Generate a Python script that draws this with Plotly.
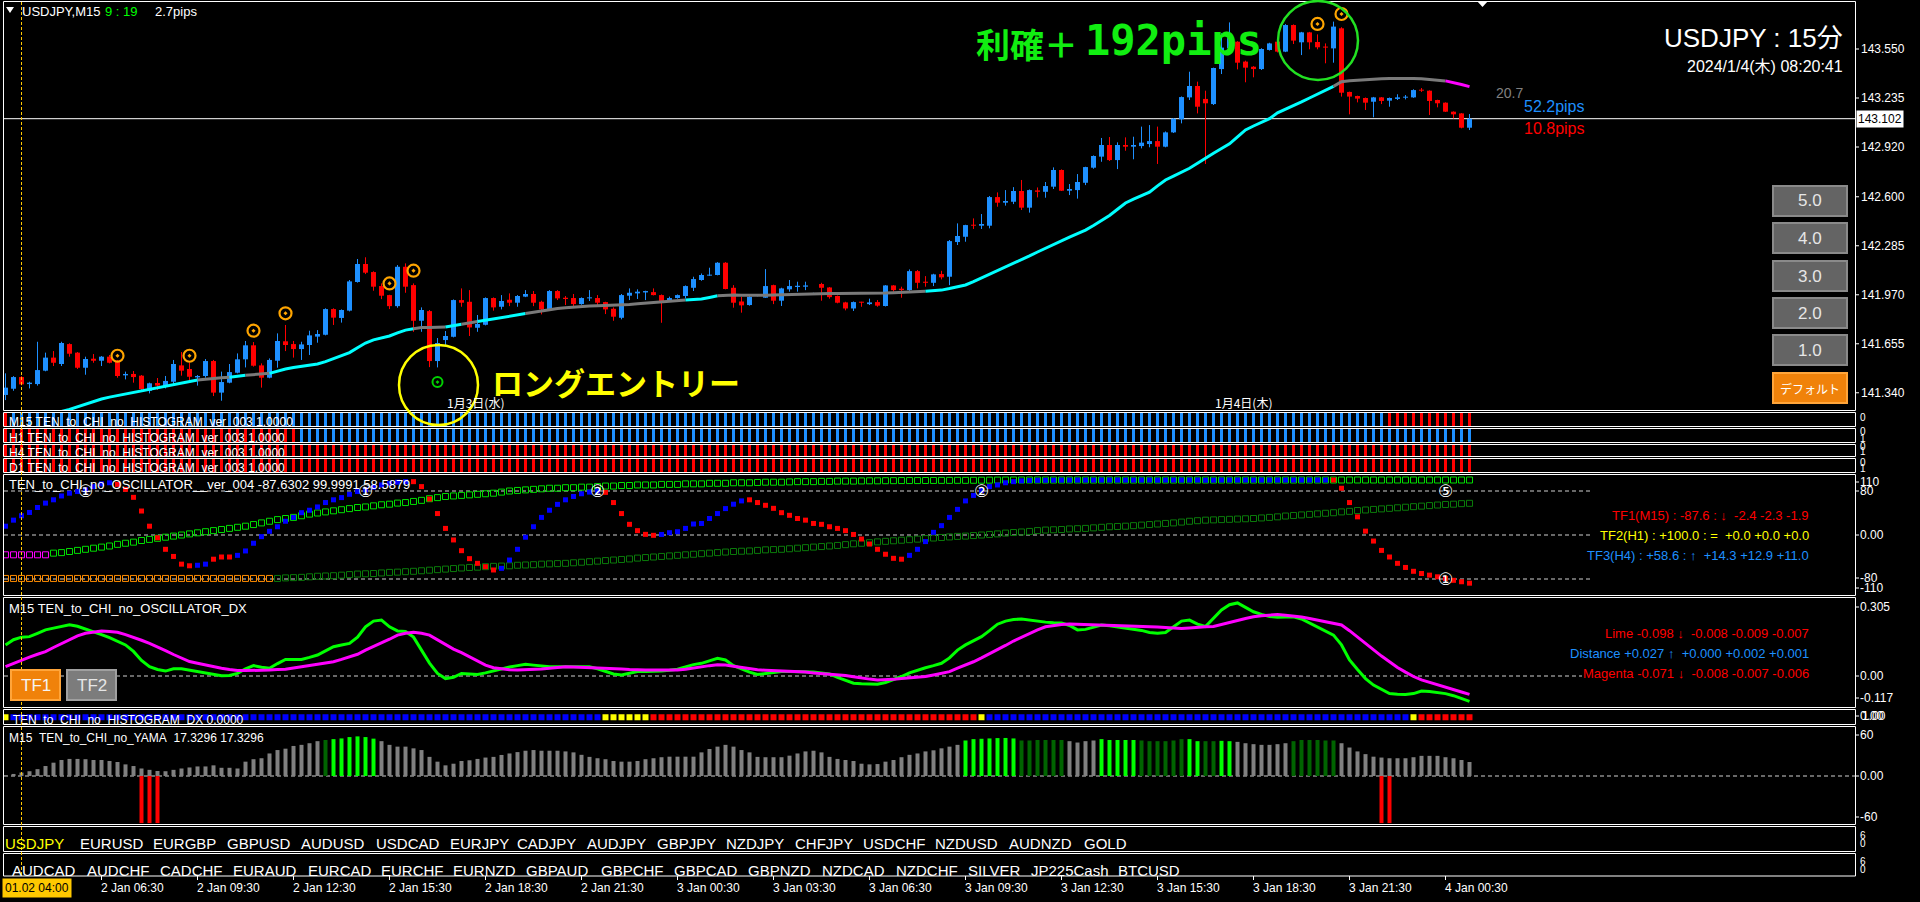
import plotly.graph_objects as go

FONT = "Liberation Sans"
JFONT = "Noto Sans CJK JP"
MONO = "DejaVu Sans Mono"

# ======================= DATA =======================
# M15 candles, bar 0 = 2 Jan 03:30 (server time), one bar per 15 minutes
O = [
    141.326, 141.366, 141.441, 141.396, 141.396, 141.482, 141.566, 141.525, 141.653, 141.598,
    141.501, 141.559, 141.546, 141.572, 141.546, 141.452, 141.461, 141.450, 141.353, 141.403,
    141.379, 141.411, 141.516, 141.493, 141.439, 141.448, 141.544, 141.341, 141.405, 141.469,
    141.555, 141.645, 141.516, 141.437, 141.546, 141.671, 141.653, 141.621, 141.647, 141.701,
    141.713, 141.878, 141.821, 141.868, 142.052, 142.168, 142.116, 142.026, 141.968, 141.897,
    142.150, 142.032, 141.803, 141.865, 141.544, 141.679, 141.700, 141.936, 141.925, 141.758,
    141.777, 141.949, 141.893, 141.938, 141.919, 141.958, 141.975, 141.925, 141.876, 141.994,
    141.951, 141.949, 141.910, 141.947, 141.949, 141.923, 141.880, 141.822, 141.964, 141.979,
    141.985, 141.987, 141.968, 141.930, 141.949, 141.962, 142.015, 142.065, 142.093, 142.097,
    142.176, 142.015, 141.927, 141.904, 141.963, 141.951, 142.032, 141.932, 142.005, 142.020,
    142.022, 141.975, 142.039, 142.017, 141.962, 141.921, 141.882, 141.923, 141.910, 141.923,
    141.898, 142.030, 142.009, 142.000, 142.122, 142.054, 142.047, 142.103, 142.086, 142.309,
    142.343, 142.418, 142.414, 142.414, 142.598, 142.562, 142.568, 142.637, 142.530, 142.641,
    142.632, 142.665, 142.772, 142.639, 142.643, 142.690, 142.787, 142.858, 142.933, 142.836,
    142.933, 142.922, 142.926, 142.939, 142.958, 142.922, 143.014, 143.098, 143.239, 143.312,
    143.229, 143.196, 143.421, 143.554, 143.597, 143.469, 143.436, 143.421, 143.544, 143.597,
    143.533, 143.704, 143.593, 143.657, 143.595, 143.563, 143.554, 143.683, 143.274, 143.248,
    143.235, 143.211, 143.239, 143.218, 143.229, 143.237, 143.239, 143.286, 143.282, 143.222,
    143.205, 143.147, 143.136, 143.044,
]
H = [
    141.465, 141.447, 141.447, 141.411, 141.668, 141.598, 141.608, 141.668, 141.658, 141.602,
    141.572, 141.589, 141.576, 141.583, 141.551, 141.476, 141.480, 141.454, 141.405, 141.435,
    141.448, 141.551, 141.602, 141.533, 141.454, 141.557, 141.551, 141.476, 141.525, 141.593,
    141.673, 141.666, 141.529, 141.561, 141.722, 141.776, 141.673, 141.668, 141.739, 141.743,
    141.883, 141.883, 141.876, 142.065, 142.200, 142.211, 142.121, 142.043, 141.970, 142.161,
    142.172, 142.043, 141.889, 141.872, 141.692, 141.737, 141.940, 142.011, 142.000, 141.840,
    141.953, 141.953, 141.968, 141.979, 141.968, 142.000, 141.994, 141.932, 142.000, 142.000,
    141.962, 141.975, 141.953, 142.000, 141.968, 141.925, 141.889, 141.975, 142.011, 142.005,
    141.996, 142.011, 141.972, 141.958, 141.972, 142.030, 142.086, 142.107, 142.144, 142.180,
    142.180, 142.032, 141.957, 141.962, 141.970, 142.135, 142.035, 142.015, 142.065, 142.054,
    142.054, 141.983, 142.047, 142.020, 141.965, 141.925, 141.927, 141.925, 141.945, 141.936,
    142.032, 142.032, 142.022, 142.133, 142.129, 142.090, 142.105, 142.124, 142.322, 142.429,
    142.420, 142.461, 142.489, 142.605, 142.628, 142.643, 142.662, 142.708, 142.647, 142.660,
    142.695, 142.789, 142.776, 142.682, 142.746, 142.793, 142.866, 142.978, 142.984, 142.950,
    142.982, 142.986, 143.051, 143.061, 143.051, 143.020, 143.105, 143.245, 143.404, 143.340,
    143.282, 143.430, 143.651, 143.721, 143.600, 143.475, 143.440, 143.555, 143.590, 143.600,
    143.710, 143.708, 143.660, 143.660, 143.644, 143.586, 143.726, 143.690, 143.276, 143.250,
    143.238, 143.242, 143.241, 143.238, 143.259, 143.254, 143.291, 143.299, 143.284, 143.224,
    143.207, 143.149, 143.138, 143.132,
]
L = [
    141.293, 141.353, 141.388, 141.368, 141.386, 141.478, 141.512, 141.512, 141.572, 141.493,
    141.456, 141.533, 141.512, 141.529, 141.437, 141.426, 141.405, 141.347, 141.336, 141.358,
    141.368, 141.396, 141.450, 141.422, 141.386, 141.437, 141.319, 141.289, 141.401, 141.465,
    141.503, 141.508, 141.373, 141.433, 141.501, 141.608, 141.566, 141.551, 141.583, 141.662,
    141.709, 141.776, 141.791, 141.863, 142.048, 142.103, 141.996, 141.942, 141.878, 141.887,
    141.983, 141.732, 141.732, 141.505, 141.503, 141.647, 141.696, 141.893, 141.705, 141.732,
    141.773, 141.868, 141.876, 141.897, 141.893, 141.955, 141.897, 141.844, 141.872, 141.936,
    141.904, 141.897, 141.906, 141.930, 141.904, 141.846, 141.803, 141.812, 141.936, 141.943,
    141.936, 141.966, 141.790, 141.928, 141.945, 141.947, 141.994, 142.060, 142.092, 142.095,
    142.005, 141.887, 141.855, 141.900, 141.960, 141.950, 141.910, 141.898, 141.990, 141.990,
    142.000, 141.971, 141.932, 141.945, 141.915, 141.870, 141.866, 141.893, 141.904, 141.893,
    141.895, 141.990, 141.951, 141.995, 142.011, 142.022, 142.026, 142.069, 142.032, 142.290,
    142.311, 142.393, 142.393, 142.397, 142.536, 142.543, 142.553, 142.515, 142.498, 142.596,
    142.594, 142.650, 142.637, 142.611, 142.588, 142.675, 142.780, 142.825, 142.830, 142.778,
    142.896, 142.841, 142.911, 142.918, 142.811, 142.918, 143.010, 143.072, 143.222, 143.136,
    142.811, 143.190, 143.389, 143.544, 143.419, 143.336, 143.368, 143.415, 143.540, 143.528,
    143.530, 143.582, 143.511, 143.548, 143.548, 143.458, 143.462, 143.244, 143.130, 143.207,
    143.158, 143.111, 143.196, 143.179, 143.222, 143.226, 143.236, 143.274, 143.126, 143.175,
    143.145, 143.104, 143.040, 143.029,
]
C = [
    141.373, 141.441, 141.394, 141.405, 141.486, 141.566, 141.533, 141.660, 141.591, 141.501,
    141.557, 141.546, 141.572, 141.533, 141.448, 141.461, 141.441, 141.364, 141.401, 141.386,
    141.416, 141.525, 141.482, 141.443, 141.448, 141.544, 141.341, 141.409, 141.473, 141.555,
    141.645, 141.514, 141.437, 141.551, 141.673, 141.647, 141.621, 141.651, 141.709, 141.718,
    141.878, 141.823, 141.872, 142.056, 142.168, 142.112, 142.022, 141.964, 141.897, 142.150,
    142.022, 141.803, 141.872, 141.544, 141.660, 141.705, 141.936, 141.919, 141.760, 141.782,
    141.949, 141.889, 141.930, 141.919, 141.962, 141.975, 141.919, 141.876, 141.994, 141.947,
    141.943, 141.910, 141.949, 141.951, 141.919, 141.876, 141.829, 141.968, 141.983, 141.990,
    141.994, 141.968, 141.930, 141.949, 141.968, 142.026, 142.071, 142.097, 142.097, 142.176,
    142.007, 141.919, 141.902, 141.957, 141.966, 142.026, 141.932, 142.011, 142.026, 142.028,
    142.030, 141.978, 142.015, 141.955, 141.919, 141.882, 141.923, 141.919, 141.921, 141.900,
    142.030, 142.000, 142.000, 142.122, 142.047, 142.047, 142.101, 142.082, 142.315, 142.348,
    142.418, 142.414, 142.425, 142.598, 142.562, 142.573, 142.637, 142.530, 142.643, 142.632,
    142.669, 142.772, 142.639, 142.650, 142.695, 142.791, 142.862, 142.933, 142.836, 142.933,
    142.922, 142.933, 142.948, 142.958, 142.922, 143.014, 143.102, 143.241, 143.312, 143.179,
    143.201, 143.428, 143.559, 143.629, 143.462, 143.430, 143.421, 143.550, 143.586, 143.533,
    143.704, 143.604, 143.657, 143.593, 143.561, 143.559, 143.694, 143.269, 143.244, 143.231,
    143.205, 143.239, 143.216, 143.235, 143.239, 143.241, 143.286, 143.282, 143.216, 143.201,
    143.147, 143.130, 143.044, 143.102,
]
# Moving-average line and its colour state (c=cyan rising, g=gray flat, m=magenta falling)
MA = [
    141.120, 141.135, 141.150, 141.165, 141.180, 141.195, 141.208, 141.220, 141.233, 141.250,
    141.268, 141.285, 141.300, 141.312, 141.322, 141.332, 141.341, 141.350, 141.360, 141.370,
    141.379, 141.390, 141.402, 141.412, 141.422, 141.428, 141.432, 141.436, 141.440, 141.448,
    141.453, 141.458, 141.462, 141.465, 141.480, 141.493, 141.502, 141.510, 141.518, 141.525,
    141.540, 141.558, 141.578, 141.598, 141.630, 141.660, 141.680, 141.693, 141.705, 141.725,
    141.743, 141.752, 141.760, 141.760, 141.761, 141.763, 141.772, 141.780, 141.790, 141.798,
    141.806, 141.814, 141.822, 141.831, 141.840, 141.849, 141.857, 141.866, 141.876, 141.882,
    141.887, 141.892, 141.897, 141.898, 141.900, 141.901, 141.902, 141.904, 141.908, 141.912,
    141.916, 141.920, 141.924, 141.928, 141.932, 141.936, 141.939, 141.943, 141.953, 141.964,
    141.968, 141.968, 141.967, 141.966, 141.965, 141.967, 141.968, 141.970, 141.972, 141.974,
    141.975, 141.977, 141.978, 141.979, 141.979, 141.979, 141.978, 141.978, 141.978, 141.979,
    141.981, 141.983, 141.985, 141.988, 141.990, 141.992, 141.994, 142.000, 142.010, 142.020,
    142.033, 142.055, 142.078, 142.100, 142.125, 142.149, 142.172, 142.196, 142.220, 142.245,
    142.270, 142.293, 142.316, 142.340, 142.363, 142.386, 142.415, 142.447, 142.480, 142.520,
    142.560, 142.585, 142.608, 142.630, 142.670, 142.708, 142.733, 142.758, 142.783, 142.815,
    142.850, 142.880, 142.910, 142.940, 142.985, 143.030, 143.055, 143.080, 143.102, 143.140,
    143.162, 143.183, 143.210, 143.235, 143.260, 143.282, 143.310, 143.340, 143.346, 143.350,
    143.354, 143.357, 143.359, 143.360, 143.361, 143.361, 143.360, 143.358, 143.355, 143.351,
    143.345, 143.335, 143.322, 143.308,
]
MA_RUNS = [("c", 25), ("g", 4), ("c", 2), ("g", 3), ("c", 18), ("g", 4), ("c", 2), ("g", 2),
           ("c", 6), ("g", 20), ("c", 4), ("g", 26), ("c", 51), ("g", 14), ("m", 3)]

SELL_BARS = [14, 23, 31, 35, 48, 51, 164, 167]
SELL_PRICES = [141.578, 141.578, 141.739, 141.851, 142.043, 142.125, 143.711, 143.775]
ENTRY_BAR = [54]
ENTRY_PRICE = [141.409]
BID = 143.102
PRICE_TICKS = [143.550, 143.235, 142.920, 142.600, 142.285, 141.970, 141.655, 141.340]

# multi-timeframe histogram strips (b=blue, r=red)
M15_RUNS = [("r", 1), ("b", 172), ("r", 11)]
H1_RUNS = [("r", 37), ("b", 147)]
H4_RUNS = [("r", 184)]
D1_RUNS = [("r", 184)]

# oscillator
TF1 = [
    16, 27, 35, 41, 50, 58, 64, 71, 76, 79,
    82, 88, 93, 95, 92, 83, 68.5, 43.6, 16, -5,
    -26, -39, -53, -56, -55, -53, -44, -40, -40, -37,
    -29, -15, -3, 6.7, 15, 25, 32, 40.6, 45, 51,
    59, 64, 68, 74, 79, 82, 87, 91, 94, 96,
    97, 97, 88, 65.5, 39, 12, -9, -28.5, -43, -51.5,
    -57.6, -63.6, -60.6, -45.5, -26, -4, 15, 32, 45, 55.7,
    64, 70, 75, 78, 80, 77.5, 59, 39, 19.4, 7.9,
    1.2, -0.6, 1, 4.2, 6, 12, 20, 21, 30, 39,
    48, 56, 62, 64, 59, 54, 48.5, 40.6, 35.8, 30,
    27, 21, 19.4, 15, 12, 7.9, 1, -7.3, -16.4, -26,
    -35, -42.4, -44, -37, -26, -12, 4.8, 17, 32, 46.6,
    62, 72, 81, 88, 91, 95, 97, 98.5, 99.2, 99.5,
    99.6, 99.7, 99.8, 99.8, 99.9, 99.9, 99.9, 100, 100, 100,
    99.9, 99.9, 100, 100, 99.8, 99.9, 100, 100, 100, 100,
    99.7, 99.8, 100, 100, 100, 100, 99.9, 100, 100, 100,
    100, 100, 100, 100, 100, 100, 100, 85, 59, 33,
    7, -11, -28, -40, -51.5, -59, -66, -70, -73, -76,
    -79, -82.4, -85, -87.6,
]
TF1_RUNS = [("b", 14), ("r", 10), ("b", 2), ("r", 3), ("b", 22), ("r", 11), ("b", 13), ("r", 7),
            ("b", 11), ("r", 20), ("b", 53), ("r", 18)]
TF2 = [
    -36, -36, -36, -36, -36, -36, -33, -32, -30, -28,
    -26, -24, -22, -20, -17, -15, -13, -10, -8, -6,
    -4, -2, 0, 2, 4, 6, 8, 10, 12, 14,
    16, 19, 22, 25, 28, 30, 32, 35, 38, 40,
    42, 44, 46, 48, 50, 51, 53, 55, 56, 58,
    59, 61, 63, 66, 68, 70, 71, 72, 73, 74,
    75, 76, 78, 80, 81, 82, 83, 84, 85, 85,
    86, 86, 87, 87, 88, 89, 89, 90, 90, 91,
    91, 91, 92, 92, 92, 93, 93, 93, 94, 94,
    94, 95, 95, 95, 95.5, 96, 96, 96, 96.5, 97,
    97, 97, 97.5, 97.5, 98, 98, 98, 98.3, 98.5, 98.5,
    98.7, 98.8, 99, 99, 99, 99.1, 99.2, 99.3, 99.3, 99.4,
    99.4, 99.5, 99.6, 99.7, 99.8, 99.9, 100, 100, 100, 100,
    100, 100, 100, 100, 100, 100, 100, 100, 100, 100,
    100, 100, 100, 100, 100, 100, 100, 100, 100, 100,
    100, 100, 100, 100, 100, 100, 100, 100, 100, 100,
    100, 100, 100, 100, 100, 100, 100, 100, 100, 100,
    100, 100, 100, 100, 100, 100, 100, 100, 100, 100,
    100, 100, 100, 100,
]
TF2_RUNS = [("m", 6), ("g", 178)]
TF3 = [
    -79, -79, -79, -79, -79, -79, -79, -79, -79, -79,
    -79, -79, -79, -79, -79, -79, -79, -79, -79, -79,
    -79, -79, -79, -79, -79, -79, -79, -79, -79, -79,
    -79, -79, -79, -79, -79, -78, -77.5, -77, -76, -75,
    -74.5, -74, -73, -72, -71, -70.5, -70, -69, -68, -67.5,
    -66.7, -66, -65, -64, -63, -62, -61, -60, -59, -58.5,
    -57.6, -57, -56.5, -56, -55, -54.5, -54, -53, -52.5, -52,
    -51.5, -50.5, -49.5, -48.5, -47.5, -46.5, -45.5, -44.5, -43.5, -42,
    -41, -40, -39, -38, -37, -36, -35, -34, -33, -32,
    -31, -30, -29.5, -29, -28, -27, -26.5, -26, -25, -24,
    -23, -22, -21, -20, -19, -17.5, -16, -15, -14, -12.5,
    -11.5, -10.5, -9.5, -8.5, -7.5, -6.5, -5.5, -4.5, -3.5, -2.5,
    -2, -1, 0, 1, 2, 3.5, 4.5, 5.5, 6.5, 8,
    9, 9.5, 10, 11, 11.5, 12, 13, 14, 15, 15.5,
    16, 17, 18, 19, 20, 21, 22, 23.5, 25, 26,
    27, 27.5, 28, 28.5, 29, 29.5, 30, 31, 32, 33,
    34.5, 35.5, 36.5, 37.5, 38.5, 39.5, 40.5, 42, 43, 44.5,
    45.5, 46.5, 47.5, 48.5, 49.5, 50.5, 51.5, 52.5, 53.5, 54.5,
    55.5, 56, 57, 57.6,
]
TF3_RUNS = [("o", 34), ("d", 150)]
OSC_MARKS = [(10, 80, "①"), (45, 80, "①"), (74, 80, "②"), (122, 80, "②"), (180, 80, "⑤"), (180, -80, "①")]
OSC_LEVELS = [80, 0, -80]

# oscillator DX
LIME = [
    .120, .140, .150, .152, .165, .178, .185, .192, .198, .192,
    .182, .171, .160, .148, .135, .120, .095, .060, .036, .025,
    .019, .028, .028, .022, .018, .012, .006, .001, .002, .010,
    .028, .040, .034, .030, .048, .064, .064, .064, .072, .081,
    .097, .113, .120, .126, .150, .190, .212, .216, .190, .174,
    .172, .150, .100, .050, .010, -.010, -.005, .010, .008, .006,
    .012, .020, .028, .035, .040, .045, .042, .038, .036, .036,
    .036, .036, .036, .036, .028, .018, .008, .004, .010, .017,
    .017, .017, .019, .022, .026, .035, .044, .049, .058, .068,
    .062, .040, .028, .015, .006, .010, .015, .017, .017, .017,
    .017, .015, .012, .008, -.005, -.018, -.028, -.030, -.032, -.032,
    -.025, -.015, -.002, .012, .023, .032, .040, .049, .070, .100,
    .120, .135, .152, .175, .200, .212, .218, .220, .216, .211,
    .208, .206, .205, .195, .178, .180, .190, .197, .194, .190,
    .186, .182, .176, .168, .165, .168, .190, .212, .216, .200,
    .191, .225, .255, .275, .282, .265, .248, .238, .230, .227,
    .228, .229, .220, .205, .191, .175, .158, .120, .062, .025,
    -.010, -.035, -.052, -.068, -.070, -.071, -.068, -.058, -.060, -.064,
    -.068, -.076, -.086, -.098,
]
MAGENTA = [
    .036, .049, .062, .073, .084, .094, .110, .126, .142, .155,
    .165, .170, .174, .172, .169, .160, .150, .138, .126, .113,
    .098, .083, .068, .056, .049, .042, .035, .030, .025, .021,
    .021, .021, .021, .023, .025, .026, .031, .036, .041, .046,
    .050, .055, .064, .074, .084, .100, .113, .126, .142, .158,
    .165, .169, .165, .158, .140, .120, .104, .090, .075, .060,
    .042, .032, .027, .024, .023, .024, .025, .027, .030, .033,
    .036, .035, .034, .032, .031, .030, .029, .027, .025, .023,
    .023, .023, .023, .023, .023, .026, .031, .036, .040, .043,
    .042, .038, .033, .028, .024, .022, .021, .020, .018, .017,
    .015, .012, .010, .008, .006, .002, -.003, -.008, -.012, -.015,
    -.015, -.013, -.010, -.007, -.004, -.002, .004, .010, .017, .030,
    .042, .055, .070, .085, .100, .118, .135, .150, .165, .178,
    .190, .195, .199, .201, .200, .199, .198, .198, .197, .196,
    .195, .194, .192, .191, .189, .187, .185, .183, .185, .188,
    .190, .191, .198, .206, .214, .222, .229, .233, .236, .237,
    .235, .232, .228, .222, .216, .210, .203, .197, .175, .150,
    .128, .103, .077, .055, .033, .015, -.002, -.015, -.025, -.035,
    -.043, -.053, -.062, -.071,
]
HDX_RUNS = [("y", 1), ("b", 74), ("y", 6), ("r", 41), ("y", 1), ("b", 53), ("y", 1), ("r", 7)]

# YAMA histogram
YAMA = [
    1, 3, 5, 7, 10, 14.6, 19.5, 23.4, 25, 25,
    24.6, 23.4, 23.4, 22, 20.5, 17, 14.6, 11, 9, 7.3,
    7, 9, 11, 12.5, 14, 14, 15.6, 12, 12, 11,
    21, 24.6, 26, 33, 38, 40, 44, 45.6, 48, 51,
    52.7, 54, 55, 57, 58, 57, 54.7, 51, 45.6, 43,
    43, 40.5, 38, 28, 21, 15.6, 18, 22, 23, 25,
    27, 28, 30.8, 33, 35, 37, 38, 37, 37, 37,
    36, 34.6, 31, 28, 26, 24.6, 22, 21, 21, 22,
    24.6, 26, 27.5, 28.3, 28.3, 28.3, 28.3, 34.6, 39.5, 43,
    45.6, 43, 38, 34.6, 28, 27.5, 27.5, 27.5, 29.8, 33,
    36, 37, 34.6, 28, 25, 23.4, 22, 18, 17, 17.5,
    21, 23.4, 27.5, 31, 33, 36, 37.6, 40.5, 43, 45.6,
    52, 54, 54.5, 55, 55.5, 55.7, 55, 52, 52, 52.7,
    52.7, 52.7, 52.7, 51, 49, 51, 52, 54, 52.7, 52.7,
    52.7, 52.7, 52, 51, 51, 51, 52, 54, 54, 51,
    51, 51, 51.5, 51, 50, 48, 46.6, 45.6, 45.6, 46.6,
    48, 51, 52.7, 52.7, 52.7, 52, 52, 48, 41.7, 36,
    32, 28.3, 27, 26, 26, 26, 27.5, 29.5, 29.5, 29.5,
    27.5, 26, 23.4, 20.5,
]
YAMA_RUNS = [("a", 40), ("d", 1), ("l", 6), ("a", 73), ("l", 7), ("d", 6), ("a", 4), ("l", 5),
             ("d", 6), ("l", 2), ("d", 2), ("l", 2), ("a", 7), ("d", 6), ("a", 17)]
YAMA_NEG_BARS = [17, 18, 19, 172, 173]
YAMA_NEG_VALUES = [-69, -69, -69, -69, -69]

TIME_LABELS = ["2 Jan 06:30", "2 Jan 09:30", "2 Jan 12:30", "2 Jan 15:30", "2 Jan 18:30",
               "2 Jan 21:30", "3 Jan 00:30", "3 Jan 03:30", "3 Jan 06:30", "3 Jan 09:30",
               "3 Jan 12:30", "3 Jan 15:30", "3 Jan 18:30", "3 Jan 21:30", "4 Jan 00:30"]
TIME_LABEL_BARS = [12, 24, 36, 48, 60, 72, 84, 96, 108, 120, 132, 144, 156, 168, 180]
CURSOR_LABEL = "01.02 04:00"
CURSOR_BAR = 2
DAY_LABELS = [("1月3日(水)", 445), ("1月4日(木)", 1213)]

SYMBOLS_ROW1 = ["USDJPY", "EURUSD", "EURGBP", "GBPUSD", "AUDUSD", "USDCAD", "EURJPY", "CADJPY",
                "AUDJPY", "GBPJPY", "NZDJPY", "CHFJPY", "USDCHF", "NZDUSD", "AUDNZD", "GOLD"]
SYMBOLS_ROW2 = ["AUDCAD", "AUDCHF", "CADCHF", "EURAUD", "EURCAD", "EURCHF", "EURNZD", "GBPAUD",
                "GBPCHF", "GBPCAD", "GBPNZD", "NZDCAD", "NZDCHF", "SILVER", "JP225Cash", "BTCUSD"]
BUTTONS = ["5.0", "4.0", "3.0", "2.0", "1.0"]

# ======================= LAYOUT HELPERS =======================
W, HT = 1920, 902
PL, PR, PT, PB = 4, 1855, 1, 876
BAR_PX = 8.0
X0 = -0.1875
X1 = X0 + (PR - PL) / BAR_PX


def fx(x):
    return (x - PL) / (PR - PL)


def fy(y):
    return (PB - y) / (PB - PT)


def bpx(i):
    return PL + (i - X0) * BAR_PX


def expand(runs):
    out = []
    for k, n in runs:
        out += [k] * n
    return out


# vertical calibration of each pane (pixel rows)
PRICE_PER_PX = 0.315 / 49.0
P_TOP = 143.550 + (49 - 2) * PRICE_PER_PX
P_BOT = 143.550 - (410 - 49) * PRICE_PER_PX
OSC_LO, OSC_HI = (535 - 595) / 0.55, (535 - 474) / 0.55
DX_LO, DX_HI = (676 - 707) / 259.0, (676 - 597) / 259.0
YA_LO, YA_HI = (776 - 824) / 0.683, (776 - 726) / 0.683

PANES = {
    "y": (2, 410, P_BOT, P_TOP),
    "y2": (413, 426, 0, 1),
    "y3": (429, 442, 0, 1),
    "y4": (445, 456, 0, 1),
    "y5": (459, 472, 0, 1),
    "y6": (474, 595, OSC_LO, OSC_HI),
    "y7": (597, 707, DX_LO, DX_HI),
    "y8": (709, 724, 0, 1),
    "y9": (726, 824, YA_LO, YA_HI),
}
BORDERS = [(1.5, 410.5), (412.5, 426.5), (428.5, 442.5), (444.5, 456.5), (458.5, 472.5),
           (474.5, 595.5), (597.5, 707.5), (709.5, 724.5), (726.5, 824.5), (826.5, 851.5),
           (853.5, 876)]

BLUE = "#1e90ff"
RED = "#ff0000"

fig = go.Figure()
N = min(len(O), len(H), len(L), len(C))
idx = list(range(N))

# ---------- candles ----------
MINB = PRICE_PER_PX
for up, col in ((True, BLUE), (False, RED)):
    ids = [i for i in idx if (C[i] >= O[i]) == up]
    wx, wy = [], []
    for i in ids:
        wx += [i, i, None]
        wy += [L[i], H[i], None]
    fig.add_trace(go.Scatter(x=wx, y=wy, mode="lines", line=dict(color=col, width=1),
                             hoverinfo="skip", yaxis="y"))
    fig.add_trace(go.Bar(x=ids, y=[max(abs(C[i] - O[i]), MINB) for i in ids],
                         base=[min(O[i], C[i]) for i in ids], width=0.625,
                         marker=dict(color=col, line=dict(width=0)), hoverinfo="skip", yaxis="y"))

# ---------- moving average ----------
ma_state = expand(MA_RUNS)
MA_COL = {"c": "#00ffff", "g": "#7a7a7a", "m": "#ff00ff"}
s = 0
while s < N:
    e = s
    while e + 1 < N and ma_state[e + 1] == ma_state[s]:
        e += 1
    a = max(s - 1, 0)
    fig.add_trace(go.Scatter(x=list(range(a, e + 1)), y=MA[a:e + 1], mode="lines",
                             line=dict(color=MA_COL[ma_state[s]], width=3), hoverinfo="skip", yaxis="y"))
    s = e + 1

fig.add_trace(go.Scatter(x=SELL_BARS, y=SELL_PRICES, mode="markers",
                         marker=dict(symbol="circle-open-dot", size=12, color="#ffa500",
                                     line=dict(color="#ffa500", width=2.2)), yaxis="y"))
fig.add_trace(go.Scatter(x=ENTRY_BAR, y=ENTRY_PRICE, mode="markers",
                         marker=dict(symbol="circle-open-dot", size=10, color="#00d000",
                                     line=dict(color="#00d000", width=2)), yaxis="y"))

# ---------- MTF histogram strips ----------
STRIP_COL = {"b": BLUE, "r": RED}
strip_names = ["M15 TEN_to_CHI_no_HISTOGRAM_ver_003 1.0000", "H1 TEN_to_CHI_no_HISTOGRAM_ver_003 1.0000",
               "H4 TEN_to_CHI_no_HISTOGRAM_ver_003 1.0000", "D1 TEN_to_CHI_no_HISTOGRAM_ver_003 1.0000"]
for ax, runs, name in zip(["y2", "y3", "y4", "y5"], [M15_RUNS, H1_RUNS, H4_RUNS, D1_RUNS], strip_names):
    cols = [STRIP_COL[k] for k in expand(runs)][:N]
    fig.add_trace(go.Bar(x=idx, y=[1] * N, base=0, width=0.375, marker=dict(color=cols, line=dict(width=0)),
                         yaxis=ax, hoverinfo="skip"))
    fig.add_trace(go.Scatter(x=[0.45], y=[0.22], mode="text", text=[name], textposition="middle right",
                             textfont=dict(family=FONT, size=12, color="white"), cliponaxis=True,
                             yaxis=ax, hoverinfo="skip"))

# ---------- oscillator ----------
st3 = expand(TF3_RUNS)
for k, col in (("o", "#ff8c00"), ("d", "#0a7a0a")):
    ids = [i for i in idx if st3[i] == k]
    fig.add_trace(go.Scatter(x=ids, y=[TF3[i] for i in ids], mode="markers", yaxis="y6",
                             marker=dict(symbol="square-open", size=6, color=col, line=dict(color=col, width=1))))
st2 = expand(TF2_RUNS)
for k, col in (("m", "#ff00ff"), ("g", "#00dd00")):
    ids = [i for i in idx if st2[i] == k]
    fig.add_trace(go.Scatter(x=ids, y=[TF2[i] for i in ids], mode="markers", yaxis="y6",
                             marker=dict(symbol="square-open", size=6, color=col, line=dict(color=col, width=1))))
st1 = expand(TF1_RUNS)
for k, col in (("b", "#0000ff"), ("r", "#ff0000")):
    ids = [i for i in idx if st1[i] == k]
    fig.add_trace(go.Scatter(x=ids, y=[TF1[i] for i in ids], mode="markers", yaxis="y6",
                             marker=dict(symbol="square", size=5, color=col, line=dict(width=0))))

# ---------- DX ----------
fig.add_trace(go.Scatter(x=idx, y=LIME[:N], mode="lines", line=dict(color="#00ff00", width=3), yaxis="y7"))
fig.add_trace(go.Scatter(x=idx, y=MAGENTA[:N], mode="lines", line=dict(color="#ff00ff", width=3), yaxis="y7"))

# ---------- histogram DX squares ----------
HDX_COL = {"y": "#ffff00", "b": "#0000ff", "r": "#ff0000"}
hd = expand(HDX_RUNS)
fig.add_trace(go.Scatter(x=idx, y=[0.45] * N, mode="markers", yaxis="y8",
                         marker=dict(symbol="square", size=6, color=[HDX_COL[k] for k in hd][:N], line=dict(width=0))))
fig.add_trace(go.Scatter(x=[0.9], y=[0.2], mode="text", text=["TEN_to_CHI_no_HISTOGRAM_DX 0.0000"],
                         textposition="middle right", textfont=dict(family=FONT, size=12, color="white"),
                         cliponaxis=True, yaxis="y8", hoverinfo="skip"))

# ---------- YAMA ----------
YCOL = {"a": "#808080", "d": "#006400", "l": "#00ff00"}
ys = expand(YAMA_RUNS)
fig.add_trace(go.Bar(x=idx, y=YAMA[:N], base=0, width=0.5,
                     marker=dict(color=[YCOL[k] for k in ys][:N], line=dict(width=0)), yaxis="y9"))
fig.add_trace(go.Bar(x=YAMA_NEG_BARS, y=YAMA_NEG_VALUES, base=0, width=0.5,
                     marker=dict(color="#ff0000", line=dict(width=0)), yaxis="y9"))

# ======================= SHAPES =======================
SH = []


def rect(x0, y0, x1, y1, line="white", lw=1, fill="rgba(0,0,0,0)", layer="above"):
    SH.append(dict(type="rect", xref="paper", yref="paper", x0=fx(x0), x1=fx(x1), y0=fy(y1), y1=fy(y0),
                   line=dict(color=line, width=lw), fillcolor=fill, layer=layer))


def seg(x0, y0, x1, y1, color="white", lw=1, dash="solid", layer="above"):
    SH.append(dict(type="line", xref="paper", yref="paper", x0=fx(x0), x1=fx(x1), y0=fy(y0), y1=fy(y1),
                   line=dict(color=color, width=lw, dash=dash), layer=layer))


for t, b in BORDERS:
    rect(3.5, t, PR + 0.5, b)

# bid line
SH.append(dict(type="line", xref="paper", yref="y", x0=0, x1=1, y0=BID, y1=BID,
               line=dict(color="white", width=1), layer="below"))
# oscillator levels
for lv in OSC_LEVELS:
    SH.append(dict(type="line", xref="paper", yref="y6", x0=0, x1=fx(1592), y0=lv, y1=lv,
                   line=dict(color="#d0d0d0", width=1, dash="4px,3px"), layer="below"))
SH.append(dict(type="line", xref="paper", yref="y7", x0=0, x1=fx(1582), y0=0, y1=0,
               line=dict(color="#d0d0d0", width=1, dash="4px,3px"), layer="below"))
SH.append(dict(type="line", xref="paper", yref="y9", x0=0, x1=1, y0=0, y1=0,
               line=dict(color="#d0d0d0", width=1, dash="4px,3px"), layer="below"))
# crosshair
cx = bpx(CURSOR_BAR)
seg(cx, 2, cx, 876, color="#ffc800", lw=1, dash="3px,2px")

# circles
SH.append(dict(type="circle", xref="paper", yref="paper", x0=fx(399), x1=fx(478), y0=fy(425), y1=fy(345),
               line=dict(color="#ffff00", width=2.5)))
SH.append(dict(type="circle", xref="paper", yref="paper", x0=fx(1278), x1=fx(1358), y0=fy(80), y1=fy(1),
               line=dict(color="#22e022", width=2.5)))

# triangles
SH.append(dict(type="path", xref="paper", yref="paper",
               path=f"M {fx(6)} {fy(7)} L {fx(14)} {fy(7)} L {fx(10)} {fy(13)} Z",
               fillcolor="white", line=dict(width=0)))
SH.append(dict(type="path", xref="paper", yref="paper",
               path=f"M {fx(1477)} {fy(1)} L {fx(1488)} {fy(1)} L {fx(1482.5)} {fy(7)} Z",
               fillcolor="white", line=dict(width=0)))

# buttons
for lab, top in zip(BUTTONS, [186, 223, 261, 298, 335]):
    rect(1773, top, 1847, top + 30, line="#8a8a8a", lw=2, fill="#646464")
rect(1773, 373, 1847, 403, line="#ffa53a", lw=2, fill="#f0820a")
rect(11, 670, 60, 700, line="#ffa53a", lw=2, fill="#f0820a")
rect(67, 670, 116, 700, line="#a0a0a0", lw=2, fill="#7c7c7c")

# right axis tick marks
main_tick_px = [49 + (143.550 - p) / PRICE_PER_PX for p in PRICE_TICKS]
for yv in main_tick_px:
    seg(PR, yv, PR + 4, yv)
for yv in [482, 491, 535, 578, 588, 607, 676, 698, 716, 735, 776, 817]:
    seg(PR, yv, PR + 4, yv)
# time axis ticks
for b in TIME_LABEL_BARS:
    seg(bpx(b), 876, bpx(b), 880)

# ======================= ANNOTATIONS =======================
AN = []


def ann(x, y, text, size=12, color="white", xa="left", ya="middle", family=FONT, **kw):
    d = dict(x=fx(x), y=fy(y), xref="paper", yref="paper", text=text, showarrow=False,
             xanchor=xa, yanchor=ya, font=dict(family=family, size=size, color=color))
    d.update(kw)
    AN.append(d)


NB = "\u00a0"
ann(20, 11, "USDJPY,M15", 13)
ann(103, 11, "9 : 19", 13, "#00ff00")
ann(153, 11, "2.7pips", 13)

ann(1845, 38, "USDJPY : 15分", 26, xa="right", family=FONT + ", " + JFONT)
ann(1845, 67, "2024/1/4(木) 08:20:41", 16, xa="right", family=FONT + ", " + JFONT)
ann(1494, 93, "20.7", 14, "#808080")
ann(1522, 107, "52.2pips", 16, BLUE)
ann(1522, 129, "10.8pips", 16, RED)

# price axis labels
for p in PRICE_TICKS:
    AN.append(dict(x=fx(1859), y=p, xref="paper", yref="y", text=f"{p:.3f}", showarrow=False,
                   xanchor="left", yanchor="middle", font=dict(family=FONT, size=12, color="white")))
AN.append(dict(x=fx(1856), y=BID, xref="paper", yref="y", text=f"{BID:.3f}", showarrow=False,
               xanchor="left", yanchor="middle", bgcolor="white", borderpad=1,
               font=dict(family=FONT, size=12, color="black")))

# big annotations
ann(974, 43, "<b>利確＋</b>", 34, "#11ee11", family=JFONT)
ann(1083, 41, "<b>192pips</b>", 42, "#11ee11", family=MONO)
ann(490, 382, "<b>ロングエントリー</b>", 31, "#ffff00", family=JFONT)
for t, x in DAY_LABELS:
    ann(x, 402, t, 12, family=JFONT)

# buttons text
for lab, top in zip(BUTTONS, [186, 223, 261, 298, 335]):
    ann(1810, top + 15, lab, 17, "#e6e6e6", xa="center")
ann(1810, 388, "デフォルト", 12, "white", xa="center", family=JFONT)
ann(35.5, 685, "TF1", 17, "#f4f4f4", xa="center")
ann(91.5, 685, "TF2", 17, "#e6e6e6", xa="center")

# pane labels
ann(7, 484, "TEN_to_CHI_no_OSCILLATOR__ver_004 -87.6302 99.9991 58.5879", 13)
ann(7, 608, "M15 TEN_to_CHI_no_OSCILLATOR_DX", 13)
ann(7, 738, "M15" + NB * 2 + "TEN_to_CHI_no_YAMA" + NB * 2 + "17.3296 17.3296", 12)

RX = 1811
ann(RX, 515, "TF1(M15) : -87.6 : ↓" + NB * 2 + "-2.4 -2.3 -1.9", 13, RED, xa="right")
ann(RX, 535, "TF2(H1) : +100.0 : =" + NB * 2 + "+0.0 +0.0 +0.0", 13, "#ffff00", xa="right")
ann(RX, 555, "TF3(H4) : +58.6 : ↑" + NB * 2 + "+14.3 +12.9 +11.0", 13, BLUE, xa="right")
ann(RX, 633, "Lime -0.098 ↓" + NB * 2 + "-0.008 -0.009 -0.007", 13, RED, xa="right")
ann(RX, 653, "Distance +0.027 ↑" + NB * 2 + "+0.000 +0.002 +0.001", 13, BLUE, xa="right")
ann(RX, 673, "Magenta -0.071 ↓" + NB * 2 + "-0.008 -0.007 -0.006", 13, RED, xa="right")

for b, v, t in OSC_MARKS:
    AN.append(dict(x=b, y=v, xref="x", yref="y6", text=t, showarrow=False, xanchor="center", yanchor="middle",
                   font=dict(family="DejaVu Sans", size=17, color="white")))

# right labels of sub panes
for t, y in [("0", 418), ("0", 431), ("1", 438), ("0", 446), ("1", 452), ("0", 462), ("1", 468),
             ("110", 482), ("80", 491), ("0.00", 535), ("-80", 578), ("-110", 588),
             ("0.305", 607), ("0.00", 676), ("-0.117", 698), ("0.00", 716), ("60", 735),
             ("0.00", 776), ("-60", 817), ("6", 835), ("0", 843), ("6", 861), ("0", 869)]:
    ann(1858, y, t, 12 if len(t) > 1 else 10)
ann(1860, 716, "1.00", 12)

# symbols
for s_, x in zip(SYMBOLS_ROW1, [5, 80, 153, 227, 301, 376, 450, 517, 587, 657, 726, 795, 863, 935, 1009, 1084]):
    ann(x - 2, 843, s_, 15, "#ffff00" if s_ == "USDJPY" else "white")
for s_, x in zip(SYMBOLS_ROW2, [12, 87, 160, 233, 308, 381, 453, 526, 601, 674, 748, 822, 896, 968, 1031, 1118]):
    ann(x - 2, 870, s_, 15)

# time labels
for t, b in zip(TIME_LABELS, TIME_LABEL_BARS):
    ann(bpx(b) - 3, 888, t, 12)
ann(2, 888, CURSOR_LABEL, 12, "black", bgcolor="#ffc800", borderpad=2)

# ======================= LAYOUT =======================
lay = dict(width=W, height=HT, margin=dict(l=PL, r=W - PR, t=PT, b=HT - PB),
           paper_bgcolor="black", plot_bgcolor="black", showlegend=False, barmode="overlay",
           hovermode=False, shapes=SH, annotations=AN,
           xaxis=dict(range=[X0, X1], visible=False, fixedrange=True))
for k, (t, b, lo, hi) in PANES.items():
    name = "yaxis" if k == "y" else "yaxis" + k[1:]
    lay[name] = dict(domain=[fy(b), fy(t)], range=[lo, hi], visible=False, anchor="x", fixedrange=True)
fig.update_layout(**lay)

fig.write_html("out.html", config={"displayModeBar": False, "staticPlot": True},
               post_script="document.body.style.margin='0px';document.body.style.overflow='hidden';")
